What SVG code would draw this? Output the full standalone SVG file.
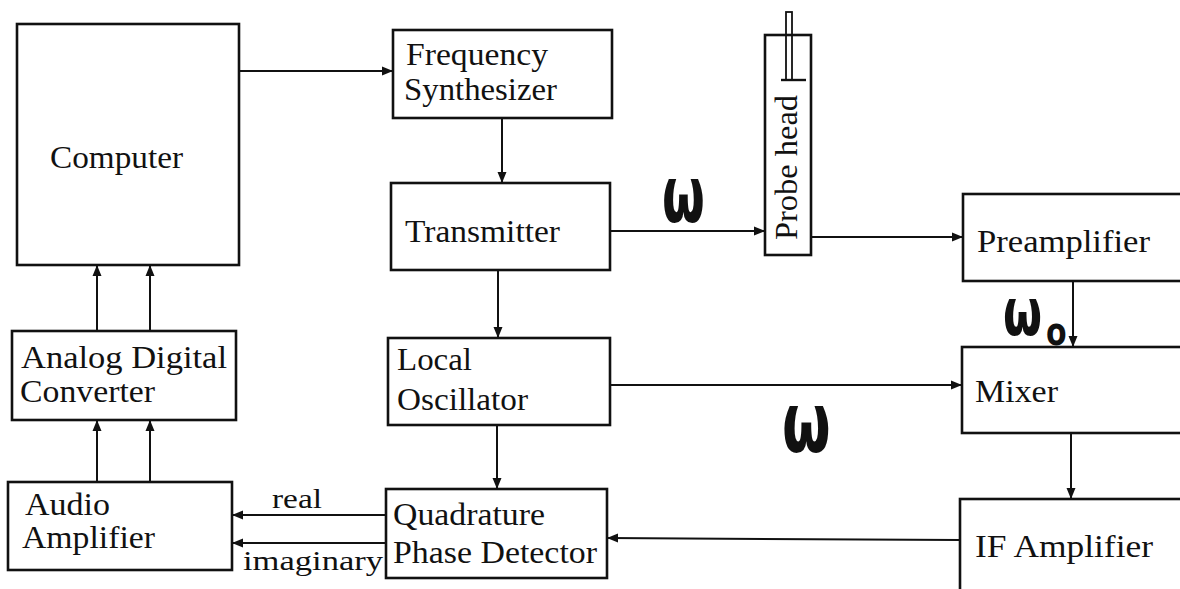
<svg xmlns="http://www.w3.org/2000/svg" width="1180" height="589" viewBox="0 0 1180 589">
<style>
.box{fill:none;stroke:#111;stroke-width:2.6}
.lbl{font-family:"Liberation Serif","Times New Roman",serif;font-size:32px;fill:#111}
.small{font-family:"Liberation Serif","Times New Roman",serif;font-size:28px;fill:#111}
.om{font-family:"DejaVu Sans",sans-serif;font-weight:bold;fill:#111}
.conn line{stroke:#111;stroke-width:2}
</style>
<defs>
<marker id="ah" markerUnits="userSpaceOnUse" markerWidth="12" markerHeight="10" refX="11" refY="5" orient="auto">
<path d="M0,0.5 L11,5 L0,9.5 z" fill="#111"/>
</marker>
</defs>
<rect width="1180" height="589" fill="#fff"/>
<g id="computer"><rect class="box" x="17" y="24" width="222" height="241"/>
<text class="lbl" x="50" y="168" textLength="133" lengthAdjust="spacingAndGlyphs">Computer</text></g>
<g id="freq-synth"><rect class="box" x="393" y="30" width="219" height="88"/>
<text class="lbl" x="406" y="65" textLength="142" lengthAdjust="spacingAndGlyphs">Frequency</text>
<text class="lbl" x="404" y="100" textLength="153" lengthAdjust="spacingAndGlyphs">Synthesizer</text></g>
<g id="transmitter"><rect class="box" x="391" y="183" width="219" height="87"/>
<text class="lbl" x="405" y="242" textLength="155" lengthAdjust="spacingAndGlyphs">Transmitter</text></g>
<g id="local-osc"><rect class="box" x="388" y="338" width="222" height="87"/>
<text class="lbl" x="397" y="370" textLength="75" lengthAdjust="spacingAndGlyphs">Local</text>
<text class="lbl" x="397" y="410" textLength="131" lengthAdjust="spacingAndGlyphs">Oscillator</text></g>
<g id="qpd"><rect class="box" x="386" y="489" width="221" height="89"/>
<text class="lbl" x="393" y="525" textLength="152" lengthAdjust="spacingAndGlyphs">Quadrature</text>
<text class="lbl" x="393" y="563" textLength="204" lengthAdjust="spacingAndGlyphs">Phase Detector</text></g>
<g id="adc"><rect class="box" x="12" y="331" width="224" height="89"/>
<text class="lbl" x="21" y="368" textLength="206" lengthAdjust="spacingAndGlyphs">Analog Digital</text>
<text class="lbl" x="20" y="402" textLength="135" lengthAdjust="spacingAndGlyphs">Converter</text></g>
<g id="audio-amp"><rect class="box" x="8" y="482" width="224" height="88"/>
<text class="lbl" x="25" y="515" font-size="29" textLength="85" lengthAdjust="spacingAndGlyphs">Audio</text>
<text class="lbl" x="22" y="548" font-size="29" textLength="133" lengthAdjust="spacingAndGlyphs">Amplifier</text></g>
<g id="probe-head"><rect class="box" x="765" y="35" width="46" height="220"/>
<rect x="786" y="12" width="6" height="68" fill="none" stroke="#111" stroke-width="1.8"/>
<line x1="781" y1="80" x2="806" y2="80" stroke="#111" stroke-width="2.4"/>
<text class="lbl" transform="translate(797,240) rotate(-90)" x="0" y="0" textLength="145" lengthAdjust="spacingAndGlyphs">Probe head</text></g>
<g id="preamp"><rect class="box" x="963" y="194" width="240" height="87"/>
<text class="lbl" x="977" y="252" textLength="173" lengthAdjust="spacingAndGlyphs">Preamplifier</text></g>
<g id="mixer"><rect class="box" x="962" y="347" width="240" height="86"/>
<text class="lbl" x="975" y="402" textLength="83" lengthAdjust="spacingAndGlyphs">Mixer</text></g>
<g id="if-amp"><rect class="box" x="960" y="499" width="240" height="100"/>
<text class="lbl" x="975" y="557" textLength="178" lengthAdjust="spacingAndGlyphs">IF Amplifier</text></g>
<g id="connectors" class="conn">
<line x1="239" y1="71" x2="393" y2="71" marker-end="url(#ah)"/>
<line x1="502" y1="118" x2="502" y2="183" marker-end="url(#ah)"/>
<line x1="610" y1="231" x2="765" y2="231" marker-end="url(#ah)"/>
<line x1="811" y1="237" x2="963" y2="237" marker-end="url(#ah)"/>
<line x1="1073" y1="281" x2="1073" y2="347" marker-end="url(#ah)"/>
<line x1="498" y1="270" x2="498" y2="338" marker-end="url(#ah)"/>
<line x1="610" y1="385" x2="962" y2="385" marker-end="url(#ah)"/>
<line x1="497" y1="425" x2="497" y2="489" marker-end="url(#ah)"/>
<line x1="1071" y1="433" x2="1071" y2="499" marker-end="url(#ah)"/>
<line x1="960" y1="540" x2="607" y2="538" marker-end="url(#ah)"/>
<line x1="386" y1="515" x2="232" y2="515" marker-end="url(#ah)"/>
<line x1="386" y1="543" x2="232" y2="543" marker-end="url(#ah)"/>
<line x1="97" y1="482" x2="97" y2="420" marker-end="url(#ah)"/>
<line x1="150" y1="482" x2="150" y2="420" marker-end="url(#ah)"/>
<line x1="97" y1="331" x2="97" y2="265" marker-end="url(#ah)"/>
<line x1="150" y1="331" x2="150" y2="265" marker-end="url(#ah)"/>
</g>
<g id="labels">
<text class="small" x="272" y="508" textLength="50" lengthAdjust="spacingAndGlyphs">real</text>
<text class="small" x="243" y="570" textLength="140" lengthAdjust="spacingAndGlyphs">imaginary</text>
<text class="om" transform="translate(662,222) scale(0.85,1.35)" font-size="58">ω</text>
<text class="om" transform="translate(1003,335) scale(1,1.45)" font-size="45">ω</text>
<text class="om" transform="translate(1046,345) scale(1,1.3)" font-size="30">o</text>
<text class="om" transform="translate(782,452) scale(1,1.5)" font-size="56">ω</text>
</g>
</svg>
